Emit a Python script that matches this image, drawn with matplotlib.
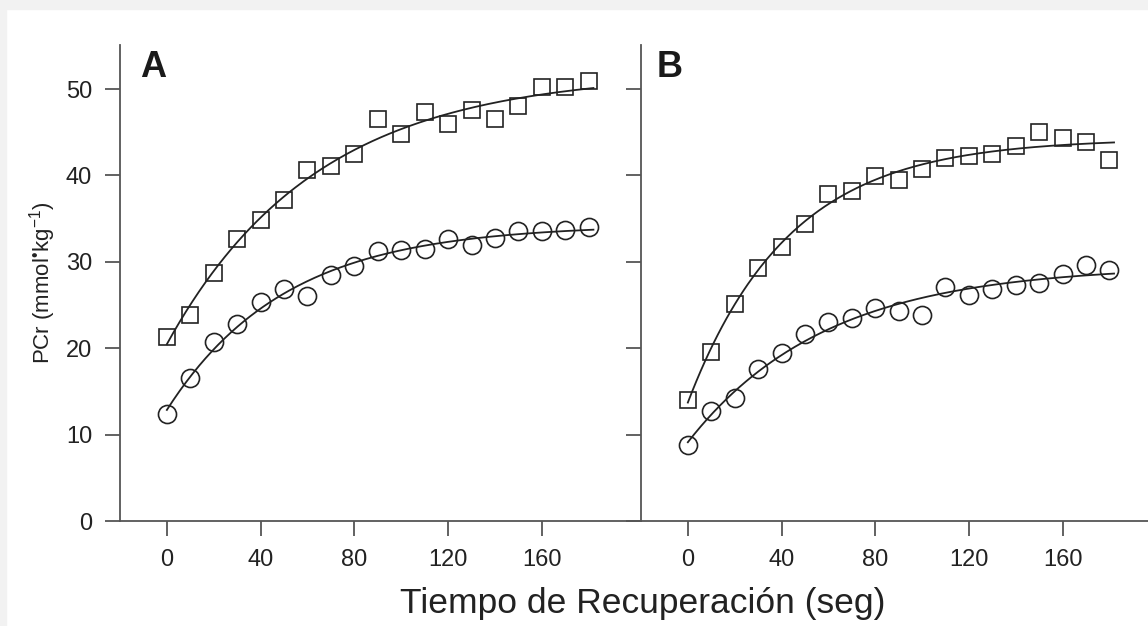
import matplotlib
matplotlib.use("Agg")
import matplotlib.pyplot as plt
from matplotlib.patches import Rectangle
import numpy as np

plt.rcParams['font.family'] = ['Liberation Sans', 'DejaVu Sans']
plt.rcParams['mathtext.fontset'] = 'custom'
plt.rcParams['mathtext.rm'] = 'Liberation Sans'
plt.rcParams['mathtext.it'] = 'Liberation Sans'

# recovery time (s)
tiempo = np.arange(0, 190, 10)

# panel A
a_cuadrados = [21.3, 23.9, 28.7, 32.6, 34.9, 37.2, 40.6, 41.1, 42.5, 46.5,
               44.8, 47.4, 46.0, 47.6, 46.5, 48.0, 50.2, 50.2, 50.9]
a_circulos = [12.4, 16.5, 20.7, 22.8, 25.3, 26.9, 26.1, 28.5, 29.5, 31.2,
              31.4, 31.5, 32.7, 32.0, 32.8, 33.6, 33.6, 33.7, 34.0]

# panel B
b_cuadrados = [14.0, 19.6, 25.1, 29.3, 31.7, 34.4, 37.8, 38.2, 39.9, 39.5,
               40.7, 42.0, 42.3, 42.5, 43.4, 45.0, 44.3, 43.9, 41.8]
b_circulos = [8.8, 12.7, 14.2, 17.6, 19.4, 21.7, 23.0, 23.5, 24.6, 24.3,
              23.9, 27.1, 26.2, 26.9, 27.3, 27.6, 28.6, 29.6, 29.1]

paneles = [('A', a_cuadrados, a_circulos), ('B', b_cuadrados, b_circulos)]


def exp_fit(t, y):
    # mono-exponential y = a + b*(1 - exp(-t/tau)), tau by grid search
    t = np.asarray(t, float)
    y = np.asarray(y, float)
    best = None
    for tau in np.linspace(5, 400, 800):
        basis = np.column_stack([np.ones_like(t), 1 - np.exp(-t / tau)])
        coef = np.linalg.lstsq(basis, y, rcond=None)[0]
        err = np.sum((basis @ coef - y) ** 2)
        if best is None or err < best[0]:
            best = (err, tau, coef)
    _, tau, coef = best
    return lambda tt: coef[0] + coef[1] * (1 - np.exp(-tt / tau))


fig = plt.figure(figsize=(11.48, 6.26), dpi=100)
fig.add_artist(Rectangle((0, 1 - 9 / 626), 1, 9 / 626, transform=fig.transFigure,
                         color='#f2f2f2', zorder=0))
fig.add_artist(Rectangle((0, 0), 6 / 1148, 1, transform=fig.transFigure,
                         color='#f2f2f2', zorder=0))

bottom = 1 - 521 / 626
height = (521 - 45) / 626
ax_a = fig.add_axes([120 / 1148, bottom, (641 - 120) / 1148, height])
ax_b = fig.add_axes([641 / 1148, bottom, 1 - 641 / 1148, height])

tt = np.linspace(0, 182, 200)
for ax, (letra, cuad, circ) in zip([ax_a, ax_b], paneles):
    ax.patch.set_alpha(0)
    for vals, mk, ms in [(cuad, 's', 12), (circ, 'o', 13)]:
        f = exp_fit(tiempo, vals)
        ax.plot(tt, f(tt), color='#222222', lw=1.3, zorder=2)
        ax.plot(tiempo, vals, linestyle='none', marker=mk, ms=ms,
                mfc='none', mec='#222222', mew=1.2, zorder=3)
    ax.text(0.038 if letra == 'A' else 0.03, 0.99, letra, transform=ax.transAxes,
            fontsize=26, fontweight='bold', va='top', ha='left', color='#1a1a1a')
    ax.set_ylim(0, 55.1)
    ax.set_xticks([0, 40, 80, 120, 160])
    ax.set_yticks([0, 10, 20, 30, 40, 50])
    ax.spines['top'].set_visible(False)
    ax.spines['right'].set_visible(False)
    for s in ['left', 'bottom']:
        ax.spines[s].set_color('#555555')
        ax.spines[s].set_linewidth(1.3)
    ax.tick_params(direction='out', length=11, width=1.3, color='#555555',
                   labelsize=17, labelcolor='#222222', pad=9)

ax_a.set_xlim(-20, 202.3)
ax_b.set_xlim(-20, 196.5)
ax_b.tick_params(axis='y', labelleft=False)

ax_a.set_ylabel(r'PCr (mmol$^{•}$kg$^{-1}$)', fontsize=16, color='#222222',
                labelpad=6)
fig.text(643 / 1148, 1 - 604 / 626, 'Tiempo de Recuperación (seg)', fontsize=25.5,
         ha='center', va='center', color='#222222')

fig.savefig('out.png', dpi=100)
